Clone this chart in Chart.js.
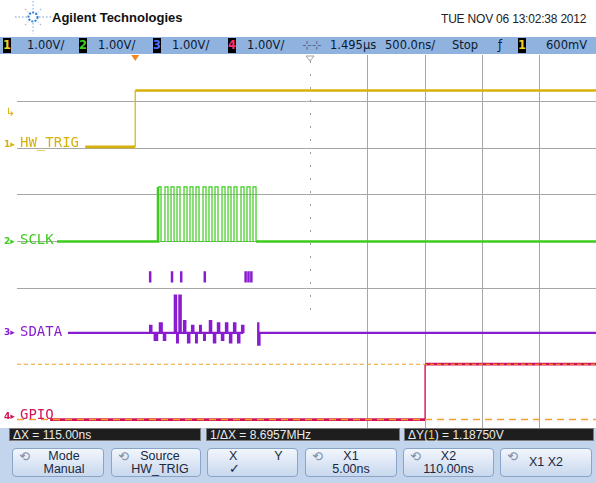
<!DOCTYPE html>
<html>
<head>
<meta charset="utf-8">
<script src="https://cdn.jsdelivr.net/npm/chart.js@4/dist/chart.umd.min.js"></script>
<style>
  body { margin:0; width:596px; height:483px; background:#fff; position:relative; overflow:hidden; font-family:"Liberation Sans", Arial, sans-serif; }
  #brand { position:absolute; left:52px; top:10px; font-weight:bold; font-size:13px; color:#111; }
  #date { position:absolute; left:441px; top:12px; font-size:12px; color:#222; letter-spacing:-0.2px; }
  #status { position:absolute; left:0; top:37px; width:596px; height:17px; background:#8fb2df; font-family:"DejaVu Sans", sans-serif; font-size:11.5px; color:#0c1a30; }
  #status span { position:absolute; top:1px; line-height:15px; }
  #status .badge { top:1px; width:8px; height:15px; background:#000; font-weight:bold; text-align:center; }
  #plot { position:absolute; left:0; top:55px; }
  #footer { position:absolute; left:0; top:428px; width:596px; height:55px; background:#c3d5ec; }
  .info { position:absolute; top:0; height:13px; background:#1e1e1e; color:#eaeaea; font-size:12px; line-height:13px; padding-left:3px; box-sizing:border-box; border:1px solid #7c7c7c; }
  .btn { position:absolute; top:20px; height:29px; box-sizing:border-box; border:1px solid #8aa4c8; border-radius:4px; background:linear-gradient(#f2f6fc,#c8d8ee); font-size:12.5px; color:#1a2840; text-align:center; line-height:13px; padding-top:1px; }
  .btn .ic { position:absolute; left:6px; top:1px; color:#7f8ea6; font-size:13px; font-family:"DejaVu Sans", sans-serif; }
</style>
</head>
<body>
<svg width="40" height="36" style="position:absolute;left:13px;top:0">
  <g stroke="#9fbde0" stroke-width="1.3" stroke-dasharray="1.5 2">
    <line x1="20" y1="1" x2="20" y2="11"/><line x1="20" y1="23" x2="20" y2="34"/>
    <line x1="2" y1="17" x2="14" y2="17"/><line x1="26" y1="17" x2="38" y2="17"/>
    <line x1="12" y1="9" x2="15" y2="12"/><line x1="28" y1="9" x2="25" y2="12"/>
    <line x1="12" y1="25" x2="15" y2="22"/><line x1="28" y1="25" x2="25" y2="22"/>
  </g>
  <circle cx="20" cy="17" r="4.5" fill="none" stroke="#2f80d4" stroke-width="2" stroke-dasharray="2 1.3"/>
</svg>
<div id="brand">Agilent Technologies</div>
<div id="date">TUE NOV 06 13:02:38 2012</div>
<div id="status">
  <span class="badge" style="left:3px;color:#f0d020">1</span><span style="left:27px">1.00V/</span>
  <span class="badge" style="left:79px;color:#40d020">2</span><span style="left:98px">1.00V/</span>
  <span class="badge" style="left:153px;color:#5070ff">3</span><span style="left:172px">1.00V/</span>
  <span class="badge" style="left:228px;color:#ff3070">4</span><span style="left:247px">1.00V/</span>
  <span style="left:302px;color:#506890">⊹⊹</span>
  <span style="left:330px">1.495µs</span>
  <span style="left:385px">500.0ns/</span>
  <span style="left:452px">Stop</span>
  <span style="left:498px">ƒ</span>
  <span class="badge" style="left:518px;color:#f0d020">1</span>
  <span style="left:546px">600mV</span>
</div>
<canvas id="plot" width="596" height="373"></canvas>
<div id="footer">
  <div class="info" style="left:9px;width:192px">ΔX = 115.00ns</div>
  <div class="info" style="left:206px;width:194px">1/ΔX = 8.6957MHz</div>
  <div class="info" style="left:404px;width:190px">ΔY(<span style="color:#f0d020">1</span>) = 1.18750V</div>
  <div class="btn" style="left:12px;width:92px"><span class="ic">⟲</span><div style="padding-left:12px">Mode<br>Manual</div></div>
  <div class="btn" style="left:111px;width:90px"><span class="ic">⟲</span><div style="padding-left:8px">Source<br>HW_TRIG</div></div>
  <div class="btn" style="left:207px;width:91px"><div style="text-align:left;padding-left:21px">X<span style="padding-left:37px">Y</span><br>✓</div></div>
  <div class="btn" style="left:305px;width:92px"><span class="ic">⟲</span><div>X1<br>5.00ns</div></div>
  <div class="btn" style="left:403px;width:91px"><span class="ic">⟲</span><div>X2<br>110.00ns</div></div>
  <div class="btn" style="left:500px;width:92px"><span class="ic">⟲</span><div style="padding-top:6px">X1 X2</div></div>
</div>
<script>
// time in graticule divisions (500 ns/div, 0 = screen centre), level in volts (1 V/div)
const trigTime = [-3.91, -3.04, -3.04, 4.98];
const trigVolt = [0, 0, 1.21, 1.21];

const sclkTime = [-4.40, -2.643, -2.591, -2.522, -2.470, -2.417, -2.365, -2.313, -2.261,
  -2.191, -2.139, -2.087, -2.035, -1.983, -1.930, -1.861, -1.809, -1.757, -1.704,
  -1.652, -1.600, -1.530, -1.478, -1.426, -1.374, -1.322, -1.270, -1.200, -1.148,
  -1.096, -1.043, -0.991, -0.939, 4.98];
const sclkVolt = [0, 1.17, 0, 1.17, 0, 1.17, 0, 1.17, 0, 1.17, 0, 1.17, 0, 1.17, 0, 1.17, 0,
  1.17, 0, 1.17, 0, 1.17, 0, 1.17, 0, 1.17, 0, 1.17, 0, 1.17, 0, 1.17, 0, 0];

const sdataTime = [-4.21, -2.78, -2.76, -2.70, -2.66, -2.61, -2.58, -2.54, -2.52,
  -2.35, -2.33, -2.31, -2.30, -2.27, -2.25,
  -2.19, -2.17, -2.12, -2.10, -2.05, -2.03, -1.98, -1.97, -1.91, -1.90, -1.84, -1.83,
  -1.74, -1.72, -1.67, -1.65, -1.60, -1.58, -1.53, -1.51, -1.46, -1.44, -1.39, -1.37,
  -1.32, -1.30, -1.25, -1.23, -1.18, -1.16, -1.14,
  -0.92, -0.90, -0.88, 4.98];
const sdataVolt = [0, 0.15, 0, -0.15, 0, 0.2, 0, -0.15, 0,
  0.8, 0, -0.2, 0, 0.8, 0,
  0.25, 0, -0.2, 0, 0.15, 0, -0.2, 0, 0.15, 0, -0.15, 0,
  0.25, 0, -0.2, 0, 0.2, 0, -0.15, 0, 0.2, 0, -0.2, 0,
  0.2, 0, -0.2, 0, 0.15, 0, null,
  0.2, -0.25, 0, 0];

// stray SDATA fragments drawn above the trace
const fragTime = [-2.78, -2.40, -2.24, -1.83, -1.12, -1.07, -1.02];
const fragLow = 1.08;
const fragHigh = 1.32;

const gpioTime = [-4.52, 2.0, 2.0, 4.98];
const gpioVolt = [0, 0, 1.19, 1.19];

const cursorY1 = 0;       // volts, channel 4
const cursorY2 = 1.1875;
const trigLevel = 0.6;    // volts, channel 1
const triggerPoint = -3.04;

const channelNames = ['HW_TRIG', 'SCLK', 'SDATA', 'GPIO'];
const channelOffset = [2.03, 0, -1.96, -3.82];   // ground marker, divisions
const channelColor = ['#d8b10a', '#3dcb1e', '#8a1ccf', '#d01456'];
const labelShift = [-3, -1, -1, -4];

const gridX = [1, 2, 3, 4];
const gridY = [-1, 0, 1, 2, 3];
const xMin = -5.096, xMax = 4.974;

function trace(times, volts, ch) {
  return times.map((t, i) => ({ x: t, y: volts[i] === null ? null : volts[i] + channelOffset[ch] }));
}

const fragData = [];
fragTime.forEach(t => {
  fragData.push({ x: t, y: fragLow + channelOffset[2] }, { x: t, y: fragHigh + channelOffset[2] }, { x: t, y: null });
});

// edges and fast clock segments are thin, steady levels are thick
const thinShort = ctx => (ctx.p1.parsed.x - ctx.p0.parsed.x < 0.08 ? 1.2 : 2.6);

const scopeDecor = {
  id: 'scopeDecor',
  beforeDatasetsDraw(chart) {
    const { ctx, chartArea, scales: { x, y } } = chart;
    const cx = Math.round(x.getPixelForValue(0)) + 0.5;
    ctx.save();
    ctx.strokeStyle = '#9a9a9a';
    ctx.lineWidth = 1;
    ctx.setLineDash([2, 11]);
    ctx.beginPath();
    ctx.moveTo(cx, chartArea.top + 6);
    ctx.lineTo(cx, y.getPixelForValue(-1.5));
    ctx.stroke();
    ctx.restore();
  },
  afterDatasetsDraw(chart) {
    const { ctx, chartArea, scales: { x, y } } = chart;
    ctx.save();
    channelNames.forEach((name, i) => {
      const py = y.getPixelForValue(channelOffset[i]) + labelShift[i];
      ctx.fillStyle = channelColor[i];
      ctx.textBaseline = 'middle';
      ctx.font = 'bold 9px "DejaVu Sans"';
      ctx.fillText((i + 1) + '▸', 4, py + 1);
      ctx.font = '14px "DejaVu Sans Mono"';
      ctx.fillText(name, 20, py);
    });
    // trigger level marker
    ctx.fillStyle = channelColor[0];
    ctx.font = '11px "DejaVu Sans"';
    ctx.textBaseline = 'bottom';
    ctx.fillText('↳', 6, y.getPixelForValue(trigLevel + channelOffset[0]));
    // trigger point marker
    const tx = x.getPixelForValue(triggerPoint);
    ctx.fillStyle = '#f08a20';
    ctx.beginPath();
    ctx.moveTo(tx - 4, chartArea.top);
    ctx.lineTo(tx + 4, chartArea.top);
    ctx.lineTo(tx, chartArea.top + 6);
    ctx.closePath();
    ctx.fill();
    // time reference marker
    const cx = x.getPixelForValue(0);
    ctx.strokeStyle = '#a0a0a0';
    ctx.lineWidth = 1;
    ctx.beginPath();
    ctx.moveTo(cx - 4, chartArea.top + 1);
    ctx.lineTo(cx + 4, chartArea.top + 1);
    ctx.lineTo(cx, chartArea.top + 6);
    ctx.closePath();
    ctx.stroke();
    ctx.restore();
  }
};

const config = {
  type: 'line',
  data: {
    datasets: [
      { data: [{ x: xMin, y: cursorY1 + channelOffset[3] }, { x: xMax, y: cursorY1 + channelOffset[3] }],
        borderColor: '#f4a030', borderWidth: 1.5, borderDash: [7, 5] },
      { data: [{ x: xMin, y: cursorY2 + channelOffset[3] }, { x: xMax, y: cursorY2 + channelOffset[3] }],
        borderColor: '#f4a030', borderWidth: 1.2, borderDash: [4, 3] },
      { data: trace(trigTime, trigVolt, 0), borderColor: channelColor[0], borderWidth: 2.4, stepped: true,
        segment: { borderWidth: thinShort } },
      { data: trace(sclkTime, sclkVolt, 1), borderColor: channelColor[1], borderWidth: 2.6, stepped: true,
        segment: { borderWidth: thinShort } },
      { data: trace(sdataTime, sdataVolt, 2), borderColor: channelColor[2], borderWidth: 2.4, stepped: true },
      { data: fragData, borderColor: channelColor[2], borderWidth: 2.5 },
      { data: trace(gpioTime, gpioVolt, 3), borderColor: channelColor[3], borderWidth: 2.4, stepped: true,
        segment: { borderWidth: thinShort } }
    ]
  },
  options: {
    responsive: false,
    animation: false,
    layout: { padding: { left: 17 } },
    elements: { point: { radius: 0 } },
    plugins: { legend: { display: false }, tooltip: { enabled: false } },
    scales: {
      x: {
        type: 'linear', min: xMin, max: xMax,
        afterBuildTicks: s => { s.ticks = gridX.map(v => ({ value: v })); },
        ticks: { display: false },
        grid: { color: '#a6a6a6', lineWidth: 1, drawTicks: false },
        border: { display: false }
      },
      y: {
        type: 'linear', min: -4, max: 4,
        afterBuildTicks: s => { s.ticks = gridY.map(v => ({ value: v })); },
        ticks: { display: false },
        grid: { color: '#a6a6a6', lineWidth: 1, drawTicks: false },
        border: { display: false }
      }
    }
  },
  plugins: [scopeDecor]
};

new Chart(document.getElementById('plot'), config);
</script>
</body>
</html>
